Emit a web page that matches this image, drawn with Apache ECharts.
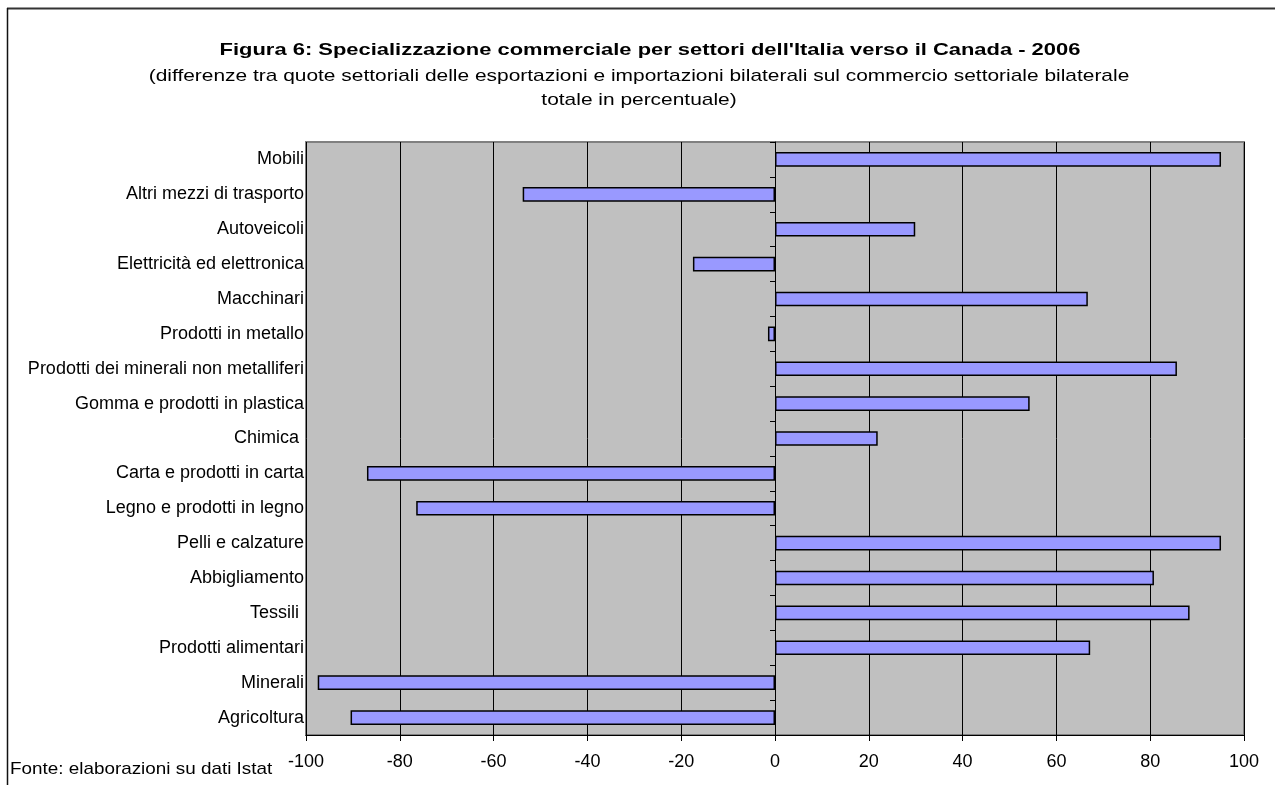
<!DOCTYPE html>
<html>
<head>
<meta charset="utf-8">
<script src="https://cdn.jsdelivr.net/npm/echarts@6/dist/echarts.min.js"></script>
<style>
  html, body { margin: 0; padding: 0; background: #fff; }
  #chart { width: 1275px; height: 785px; }
</style>
</head>
<body>
<div id="chart"></div>
<script>
// Sectors, listed bottom to top as the category axis draws them
const sectors = [
  'Agricoltura',
  'Minerali',
  'Prodotti alimentari',
  'Tessili ',
  'Abbigliamento',
  'Pelli e calzature',
  'Legno e prodotti in legno',
  'Carta e prodotti in carta',
  'Chimica ',
  'Gomma e prodotti in plastica',
  'Prodotti dei minerali non metalliferi',
  'Prodotti in metallo',
  'Macchinari',
  'Elettricità ed elettronica',
  'Autoveicoli',
  'Altri mezzi di trasporto',
  'Mobili'
];

// Export minus import share, in percent
const specialization = [
  -90.5, -97.5, 67.2, 88.4, 80.8, 95.1, -76.5, -87.0, 21.9,
  54.3, 85.7, -1.5, 66.7, -17.5, 29.9, -53.8, 95.1
];

const xMin = -100;
const xMax = 100;
const xStep = 20;

const titleText = "Figura 6: Specializzazione commerciale per settori dell'Italia verso il Canada - 2006";
const subtitleLine1 = '(differenze tra quote settoriali delle esportazioni e importazioni bilaterali sul commercio settoriale bilaterale';
const subtitleLine2 = 'totale in percentuale)';
const sourceText = 'Fonte: elaborazioni su dati Istat';

const font = 'Arial, "Liberation Sans", sans-serif';

// horizontally widened text block
function wideText(text, x, y, size, weight, stretch, align) {
  return {
    type: 'text', x: x, y: y, scaleX: stretch, scaleY: 1, silent: true,
    style: {
      text: text, fill: '#000',
      font: weight + ' ' + size + 'px ' + font,
      textAlign: align, textVerticalAlign: 'middle'
    }
  };
}

const chart = echarts.init(document.getElementById('chart'), null, { renderer: 'canvas' });

chart.setOption({
  backgroundColor: '#ffffff',
  animation: false,
  textStyle: { fontFamily: font, color: '#000' },
  graphic: [
    // frame of the figure: top and left edges
    { type: 'line', shape: { x1: 7, y1: 8.5, x2: 1275, y2: 8.5 }, style: { stroke: '#333', lineWidth: 2 }, silent: true },
    { type: 'line', shape: { x1: 7.5, y1: 8, x2: 7.5, y2: 785 }, style: { stroke: '#111', lineWidth: 1.5 }, silent: true },
    wideText(titleText, 650, 50, 17, 'bold', 1.29, 'center'),
    wideText(subtitleLine1, 639, 76, 17, 'normal', 1.23, 'center'),
    wideText(subtitleLine2, 639, 100, 17, 'normal', 1.23, 'center'),
    wideText(sourceText, 10, 769, 17, 'normal', 1.11, 'left')
  ],
  grid: {
    left: 306, right: 31, top: 142, bottom: 50,
    show: true, backgroundColor: '#c0c0c0', borderColor: '#808080', borderWidth: 2,
    containLabel: false
  },
  xAxis: {
    type: 'value',
    min: xMin, max: xMax, interval: xStep,
    axisLine: { show: true, onZero: false, lineStyle: { color: '#000', width: 1 } },
    axisTick: { show: true, length: 6, lineStyle: { color: '#000' } },
    axisLabel: { fontSize: 18, color: '#000', fontFamily: font, margin: 18 },
    splitLine: { show: true, lineStyle: { color: '#000', width: 1 } }
  },
  yAxis: [
    {
      type: 'category',
      data: sectors,
      axisLine: { show: false },
      axisTick: { show: false },
      axisLabel: { fontSize: 18, color: '#000', fontFamily: font, margin: 2 },
      splitLine: { show: false }
    },
    {
      type: 'category',
      data: sectors,
      position: 'left',
      axisLine: { show: true, onZero: true, onZeroAxisIndex: 0, lineStyle: { color: '#000', width: 1 } },
      axisTick: { show: true, length: 5, lineStyle: { color: '#000' } },
      axisLabel: { show: false },
      splitLine: { show: false }
    }
  ],
  series: [
    {
      type: 'bar',
      data: specialization,
      yAxisIndex: 0,
      barCategoryGap: '58%',
      itemStyle: { color: '#9999ff', borderColor: '#000', borderWidth: 1.5 }
    }
  ]
});
</script>
</body>
</html>
